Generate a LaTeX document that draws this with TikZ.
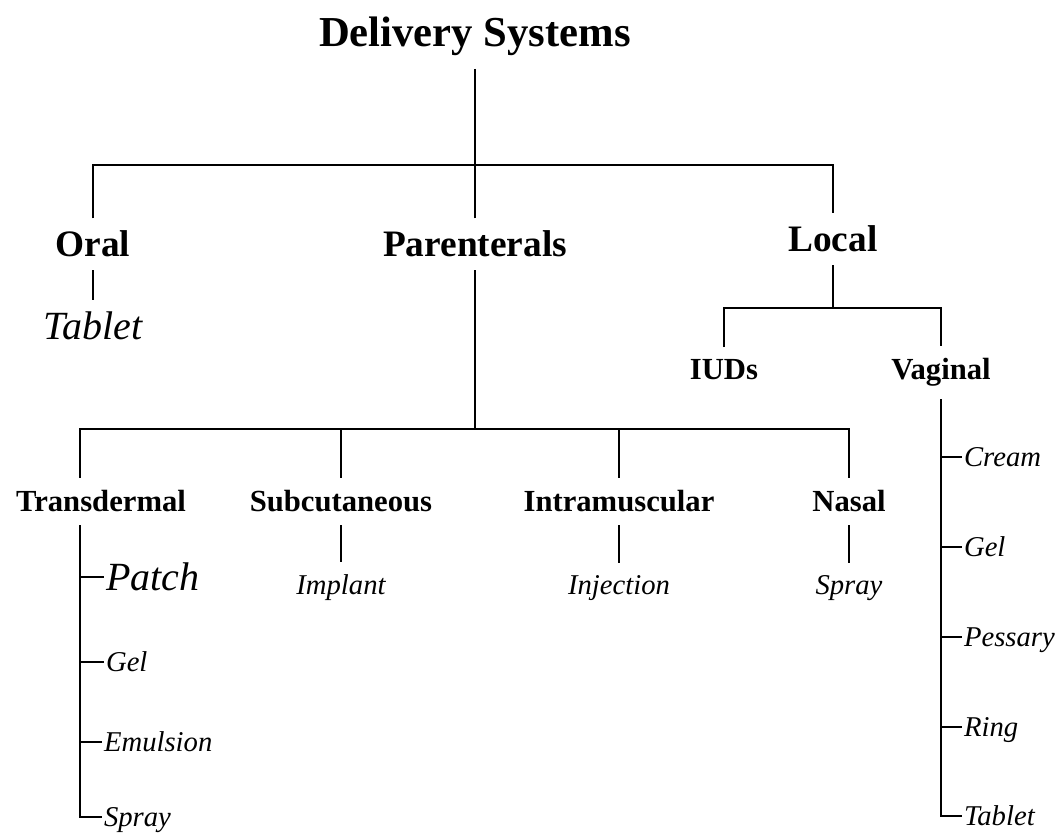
\documentclass[tikz,border=0pt]{standalone}
\usepackage{fontspec}
\setmainfont{Liberation Serif}
\usetikzlibrary{positioning}
\tikzset{
  every node/.style={inner xsep=0pt,inner ysep=9pt,anchor=base},
  head/.style={font=\fontsize{32}{36}\selectfont\bfseries},
  grp/.style={font=\fontsize{28}{32}\selectfont\bfseries},
  subgrp/.style={font=\fontsize{23}{27}\selectfont\bfseries},
  item/.style={font=\fontsize{21.5}{25}\selectfont\itshape},
  bigitem/.style={font=\fontsize{30}{34}\selectfont\itshape},
  listitem/.style={item,anchor=west,inner xsep=1pt,inner ysep=0pt,text height=14.6pt,text depth=0pt},
  biglistitem/.style={bigitem,anchor=west,inner xsep=1pt,inner ysep=0pt,text height=20pt,text depth=0pt},
}
\begin{document}
\begin{tikzpicture}[x=0.75pt,y=-0.75pt,line width=1.1pt]
\useasboundingbox (0,0) rectangle (1058,837);
\node[head] (title) at (475,47) {Delivery Systems};
\node[grp] (oral) at (93,257) {Oral};
\node[grp] (par) at (475,257) {Parenterals};
\node[grp] (loc) at (833,252) {Local};
\node[bigitem] (oraltab) at (93,340) {Tablet};
\node[subgrp] (iud) at (724,380) {IUDs};
\node[subgrp] (vag) at (941,380) {Vaginal};
\node[subgrp] (trans) at (101,512) {Transdermal};
\node[subgrp] (subc) at (341,512) {Subcutaneous};
\node[subgrp] (intra) at (619,512) {Intramuscular};
\node[subgrp] (nasal) at (849,512) {Nasal};
\node[item] (impl) at (341,595) {Implant};
\node[item] (inj) at (619,595) {Injection};
\node[item] (nspray) at (849,595) {Spray};
\node[biglistitem] (patch) at (104,577) {Patch};
\node[listitem] (tgel) at (104,662) {Gel};
\node[listitem] (emul) at (102,742) {Emulsion};
\node[listitem] (tspray) at (102,817) {Spray};
\node[listitem] (cream) at (962,457) {Cream};
\node[listitem] (vgel) at (962,547) {Gel};
\node[listitem] (pess) at (962,637) {Pessary};
\node[listitem] (ring) at (962,727) {Ring};
\node[listitem] (vtab) at (962,816) {Tablet};
\coordinate (bar1) at (475,165);
\coordinate (bar2) at (833,308);
\coordinate (bar3) at (475,429);
\coordinate (tcol) at (80,0);
\draw (title.south) -- (bar1);
\draw (oral.north) |- (bar1) -| (loc.north);
\draw (par.north) -- (bar1);
\draw (oral.south) -- (oraltab.north);
\draw (loc.south) -- (bar2);
\draw (iud.north) |- (bar2) -| (vag.north);
\draw (par.south) -- (bar3);
\draw (trans.north -| tcol) |- (bar3) -| (nasal.north);
\draw (subc.north) -- (subc.north |- bar3);
\draw (intra.north) -- (intra.north |- bar3);
\draw (subc.south) -- (impl.north);
\draw (intra.south) -- (inj.north);
\draw (nasal.south) -- (nspray.north);
\draw (trans.south -| tcol) |- (tspray.west);
\foreach \n in {patch,tgel,emul}
  \draw (\n.west -| tcol) -- (\n.west);
\draw (vag.south) |- (vtab.west);
\foreach \n in {cream,vgel,pess,ring}
  \draw (\n.west -| vag.south) -- (\n.west);
\end{tikzpicture}
\end{document}
